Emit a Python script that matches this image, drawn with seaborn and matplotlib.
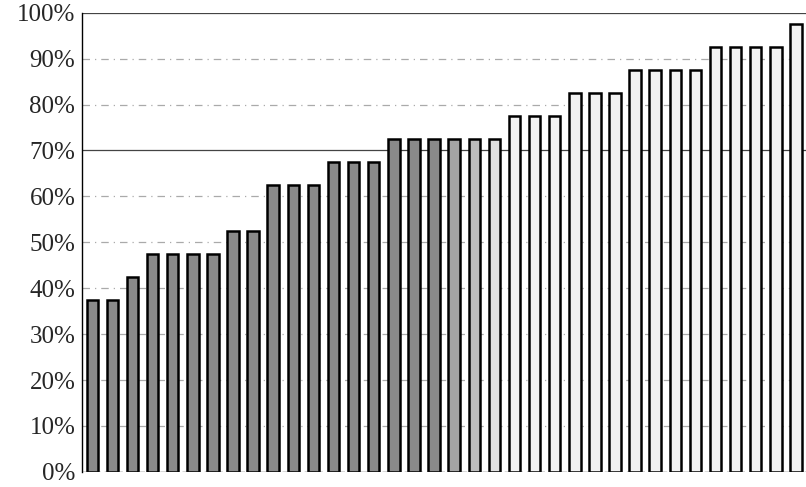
import numpy as np
import pandas as pd
import matplotlib
matplotlib.use("Agg")
import matplotlib.pyplot as plt
import seaborn as sns
from matplotlib.ticker import PercentFormatter

# bar values (fraction)
values = [0.375, 0.375, 0.425, 0.475, 0.475, 0.475, 0.475, 0.525, 0.525,
          0.625, 0.625, 0.625, 0.675, 0.675, 0.675,
          0.725, 0.725, 0.725, 0.725, 0.725, 0.725,
          0.775, 0.775, 0.775, 0.825, 0.825, 0.825,
          0.875, 0.875, 0.875, 0.875, 0.925, 0.925, 0.925, 0.925, 0.975]
# shade of each bar: dark stipple for the first group, fading to almost white
shades = ["#8a8a8a"] * 18 + ["#a4a4a4", "#bcbcbc", "#e0e0e0"] + ["#f2f2f2"] * 15
yticks = [0, 0.1, 0.2, 0.3, 0.4, 0.5, 0.6, 0.7, 0.8, 0.9, 1.0]

df = pd.DataFrame({"bar": [str(i) for i in range(len(values))], "value": values})

sns.set_style("white")
plt.rcParams["font.family"] = "serif"
plt.rcParams["font.serif"] = ["Liberation Serif", "Times New Roman", "DejaVu Serif"]

fig = plt.figure(figsize=(8.06, 4.87), dpi=100)
ax = fig.add_axes([0.102, 0.031, 0.898, 0.943])

sns.barplot(data=df, x="bar", y="value", hue="bar", palette=shades, legend=False,
            width=0.57, edgecolor="black", linewidth=1.8, saturation=1, ax=ax, zorder=3)

# scanned-looking grid
for t in yticks[1:]:
    ls = "-" if t in (0.7, 1.0) else (0, (6, 4, 1, 4))
    ax.axhline(t, color="#444444" if t in (0.7, 1.0) else "#aaaaaa", lw=0.9, ls=ls, zorder=1)
ax.axhline(0, color="#333333", lw=1.0, ls=(0, (5, 3)), zorder=4)

ax.set_xlim(-0.5, len(values) - 0.5)
ax.set_ylim(0, 1.0)
ax.set_yticks(yticks)
ax.yaxis.set_major_formatter(PercentFormatter(1.0, decimals=0))
ax.tick_params(axis="y", labelsize=18, length=0, pad=5)
ax.set_xticks([])
ax.set_xlabel("")
ax.set_ylabel("")

for s in ["top", "right", "bottom"]:
    ax.spines[s].set_visible(False)
ax.spines["left"].set_color("black")
ax.spines["left"].set_linewidth(1.0)

fig.savefig("out.png", dpi=100)
